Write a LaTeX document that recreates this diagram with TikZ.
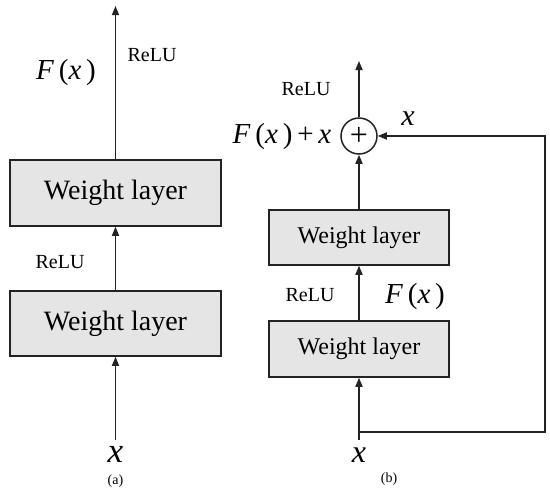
\documentclass[tikz,border=0pt]{standalone}
\usepackage{fontspec}
\setmainfont{Liberation Serif}
\usetikzlibrary{arrows.meta, positioning}
\definecolor{lineclr}{RGB}{35,35,35}
\definecolor{boxfill}{RGB}{229,229,229}
\tikzset{
  layer/.style={rectangle, draw=lineclr, fill=boxfill, line width=1.5pt, inner sep=0pt},
  sumnode/.style={circle, draw=lineclr, fill=white, line width=1.5pt, minimum size=36pt,
    inner sep=0pt, font=\fontsize{32}{34}\selectfont},
  arrow/.style={-{Triangle[length=9pt,width=7pt]}, line width=1.5pt, color=lineclr},
  relu/.style={inner sep=0pt, font=\fontsize{20}{22}\selectfont},
  mathlbl/.style={inner sep=0pt, font=\fontsize{29}{32}\selectfont},
  inlbl/.style={inner sep=0pt, font=\fontsize{35}{38}\selectfont\itshape},
  caplbl/.style={inner sep=0pt, font=\fontsize{14}{16}\selectfont}
}

\begin{document}
\begin{tikzpicture}[x=1pt, y=-1pt]
\useasboundingbox (0,0) rectangle (550,491);

% (a) plain block
\node[layer, minimum width=211pt, minimum height=65pt, font=\fontsize{28}{30}\selectfont]
  (wa1) at (115.5,323.5) {Weight layer};
\node[layer, minimum width=211pt, minimum height=66pt, font=\fontsize{28}{30}\selectfont]
  (wa2) at (115.5,193) {Weight layer};
\coordinate (ain) at (115.5,440);
\coordinate (aout) at (115.5,6);
\draw[arrow] (ain) -- (wa1.south);
\draw[arrow] (wa1.north) -- (wa2.south);
\draw[arrow] (wa2.north) -- (aout);

\node[relu] (relua1) at (60,262) {ReLU};
\node[relu] (relua2) at (152,55) {ReLU};
\node[mathlbl] (fxa) at (66,73) {\textit{F}\,(\textit{x}\,)};
\node[inlbl] (xa) at (115.5,454) {x};
\node[caplbl] (capa) at (115.5,481) {(a)};

% (b) residual block
\node[layer, minimum width=180pt, minimum height=56pt, font=\fontsize{24}{26}\selectfont]
  (wb1) at (359,349) {Weight layer};
\node[layer, minimum width=180pt, minimum height=55pt, font=\fontsize{24}{26}\selectfont]
  (wb2) at (359,237.5) {Weight layer};
\node[sumnode] (sum) at (359,136) {+};
\coordinate (bin) at (359,440);
\coordinate (split) at (359,432);
\coordinate (fb) at (545,136);
\coordinate (bout) at (359,61);
\draw[arrow] (bin) -- (wb1.south);
\draw[arrow] (wb1.north) -- (wb2.south);
\draw[arrow] (wb2.north) -- (sum.south);
\draw[arrow] (sum.north) -- (bout);
% shortcut
\draw[arrow] (split) -| (fb) -- (sum.east);

\node[relu] (relub1) at (310,295) {ReLU};
\node[relu] (relub2) at (306,89) {ReLU};
\node[mathlbl] (fxb) at (415,297) {\textit{F}\,(\textit{x}\,)};
\node[mathlbl] (fxsum) at (282,137) {\textit{F}\,(\textit{x}\,)\,+\,\textit{x}};
\node[mathlbl, font=\fontsize{30}{32}\selectfont\itshape] (xb1) at (408,119) {x};
\node[inlbl, font=\fontsize{32}{34}\selectfont\itshape] (xb2) at (359,455) {x};
\node[caplbl] (capb) at (389,479) {(b)};
\end{tikzpicture}
\end{document}
